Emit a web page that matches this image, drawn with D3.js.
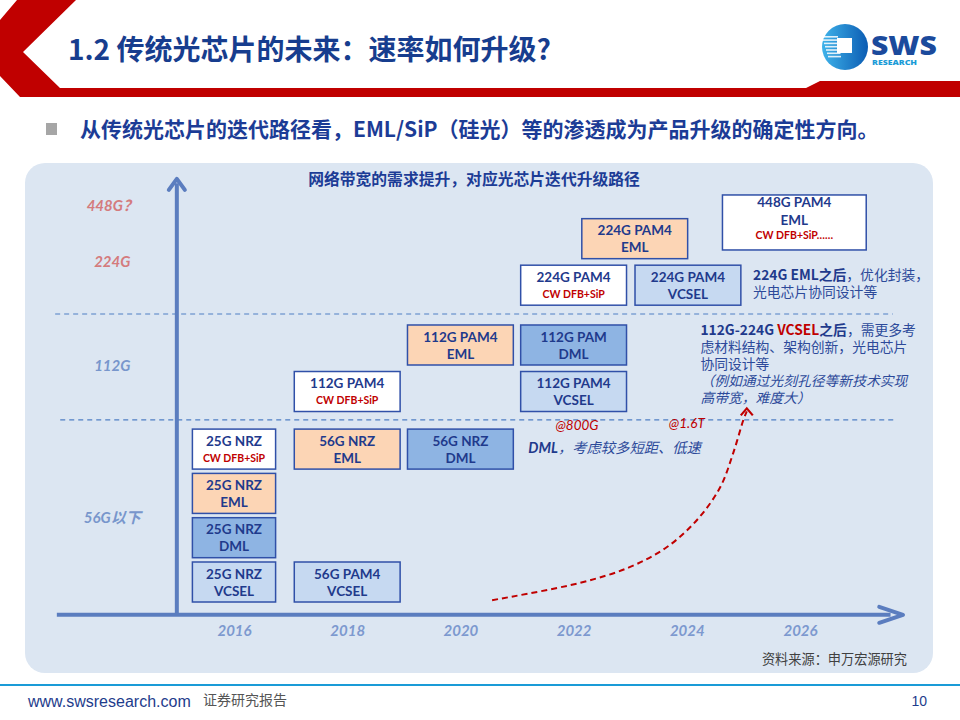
<!DOCTYPE html>
<html><head><meta charset="utf-8">
<script src="https://cdn.jsdelivr.net/npm/d3@7"></script>
<style>
html,body{margin:0;padding:0;background:#fff;}
svg{display:block;}
</style></head>
<body>
<svg id="chart" width="960" height="720"></svg>
<script>
// ---------- data ----------
const years = [2016, 2018, 2020, 2022, 2024, 2026];
const tierLabels = ["448G？", "224G", "112G", "56G以下"];
const tierSlots = [8.49, 7.22, 4.88, 1.44];
const tierKind = ["future", "future", "now", "now"];

const chipTitle = ["25G NRZ","25G NRZ","25G NRZ","25G NRZ","56G NRZ","56G PAM4","112G PAM4","56G NRZ","112G PAM4","224G PAM4","112G PAM","112G PAM4","224G PAM4","224G PAM4","448G PAM4"];
const chipLine2 = ["","EML","DML","VCSEL","EML","VCSEL","","DML","EML","","DML","VCSEL","EML","VCSEL","EML"];
const chipRed   = ["CW DFB+SiP","","","","","","CW DFB+SiP","","","CW DFB+SiP","","","","","CW DFB+SiP……"];
const chipKind  = ["sip","eml","dml","vcsel","eml","vcsel","sip","dml","eml","sip","dml","vcsel","eml","vcsel","sip"];
const chipYear  = [2016,2016,2016,2016,2018,2018,2018,2020,2020,2022,2022,2022,2023.08,2024.02,2025.9];
const chipSlot  = [3,2,1,0,3,0,4.3,3,5.35,6.7,5.35,4.3,7.75,6.7,8.24];
const chipSpan  = [1.47,1.47,1.47,1.47,1.87,1.87,1.87,1.87,1.87,1.87,1.87,1.87,1.87,1.87,2.54];

const curveYear = [2020.56, 2022.11, 2023.0, 2023.65, 2024.18, 2024.59, 2024.82, 2025.0, 2025.06];
const curveSlot = [-0.41, -0.02, 0.34, 0.79, 1.40, 2.14, 2.91, 3.66, 3.92];

const speedNotes = ["@800G", "@1.6T"];
const speedNoteYear = [2022.06, 2024.0];

// ---------- styles ----------
const C = {
  navy: "#1f3a8c", red: "#c00000", axis: "#5b7dbf", panel: "#dce6f2",
  border: "#3050a8", future: "#d47b7d", now: "#7896cc", year: "#7d99cf", note: "#2d4a9a"
};
const fills = {sip: "#ffffff", eml: "#fcd5b5", dml: "#8eb4e3", vcsel: "#c6d9f1"};
const cjk = "'Noto Sans CJK SC', sans-serif";
const latin = "Lato, 'Noto Sans CJK SC', sans-serif";

const svg = d3.select("#chart");

// ---------- header ----------
svg.append("path")
  .attr("d", "M17,0 L76,0 L23,52 L60,88 L806,88 L820,81 L960,81 L960,97 L20,97 L0,76 L0,20 Z")
  .attr("fill", C.red);
svg.append("text").attr("x", 68).attr("y", 60)
  .attr("fill", "#173d8e").attr("font-size", 28).attr("font-family", cjk).attr("font-weight", 700)
  .text("1.2 传统光芯片的未来：速率如何升级?");

// logo
const defs = svg.append("defs");
const lg = defs.append("linearGradient").attr("id", "lg").attr("x1", 0).attr("y1", 0).attr("x2", 1).attr("y2", 0);
lg.append("stop").attr("offset", 0).attr("stop-color", "#3fb3ea");
lg.append("stop").attr("offset", 1).attr("stop-color", "#0b5cb3");
const logo = svg.append("g");
logo.append("circle").attr("cx", 845).attr("cy", 47).attr("r", 23).attr("fill", "url(#lg)");
d3.range(7).forEach(i => {
  logo.append("rect").attr("x", 822 + i).attr("y", 36 + i * 3.3).attr("width", 16 - i * 0.5).attr("height", 1.6).attr("fill", "#fff").attr("opacity", 0.85);
});
logo.append("rect").attr("x", 837).attr("y", 38).attr("width", 15).attr("height", 15).attr("fill", "#fff");
logo.append("text").attr("x", 871).attr("y", 55).attr("font-family", "'Open Sans', sans-serif").attr("font-weight", 800)
  .attr("font-size", 27).attr("fill", "#1b4a9c").attr("textLength", 66).attr("lengthAdjust", "spacingAndGlyphs").text("SWS");
logo.append("text").attr("x", 872).attr("y", 64.5).attr("font-family", "'Open Sans', sans-serif").attr("font-weight", 800)
  .attr("font-size", 7).attr("fill", "#1a9bd7").attr("textLength", 45).attr("lengthAdjust", "spacingAndGlyphs").text("RESEARCH");

// subtitle
svg.append("rect").attr("x", 46).attr("y", 123).attr("width", 11).attr("height", 12).attr("fill", "#a6a6a6");
svg.append("text").attr("x", 80).attr("y", 137).attr("font-family", cjk).attr("font-weight", 700)
  .attr("font-size", 21).attr("fill", "#1c3c96")
  .text("从传统光芯片的迭代路径看，EML/SiP（硅光）等的渗透成为产品升级的确定性方向。");

// ---------- panel ----------
svg.append("rect").attr("x", 25).attr("y", 163).attr("width", 908).attr("height", 510)
  .attr("rx", 20).attr("fill", C.panel);
svg.append("text").attr("x", 474).attr("y", 185).attr("text-anchor", "middle")
  .attr("font-family", cjk).attr("font-weight", 700).attr("font-size", 15.8).attr("fill", "#1c3c96")
  .text("网络带宽的需求提升，对应光芯片迭代升级路径");

// ---------- scales ----------
const x = d3.scaleLinear().domain([2016, 2026]).range([234, 800]);
const y = d3.scaleLinear().domain([0, 10]).range([582, 139]);

// dashed tier separators
[[6.05, 2012.84, 2027.64], [3.66, 2012.93, 2027.71]].forEach(([s, a, b]) => {
  svg.append("line").attr("x1", x(a)).attr("x2", x(b)).attr("y1", y(s)).attr("y2", y(s))
    .attr("stroke", "#4f7fc4").attr("stroke-width", 1.2).attr("stroke-dasharray", "5,4");
});

// axes
const axisY = y(-0.74), axisX = x(2014.99);
svg.append("line").attr("x1", x(2012.87)).attr("x2", x(2027.6)).attr("y1", axisY).attr("y2", axisY)
  .attr("stroke", C.axis).attr("stroke-width", 4);
svg.append("path").attr("d", `M${x(2027.4)},${axisY - 8} L${x(2027.82)},${axisY} L${x(2027.4)},${axisY + 8}`)
  .attr("fill", "none").attr("stroke", C.axis).attr("stroke-width", 4).attr("stroke-linecap", "round").attr("stroke-linejoin", "round");
svg.append("line").attr("x1", axisX).attr("x2", axisX).attr("y1", axisY).attr("y2", y(9.0))
  .attr("stroke", C.axis).attr("stroke-width", 4);
svg.append("path").attr("d", `M${axisX - 8},${y(8.85)} L${axisX},${y(9.1)} L${axisX + 8},${y(8.85)}`)
  .attr("fill", "none").attr("stroke", C.axis).attr("stroke-width", 4).attr("stroke-linecap", "round").attr("stroke-linejoin", "round");

// x-axis year labels via d3 axis
const xAxis = d3.axisBottom(x).tickValues(years).tickFormat(d3.format("d")).tickSize(0).tickPadding(0);
const gx = svg.append("g").attr("transform", `translate(0,${y(-1.11) - 6})`).call(xAxis);
gx.select(".domain").remove();
gx.selectAll("text").attr("font-family", latin).attr("font-style", "italic").attr("font-weight", 700)
  .attr("font-size", 15).attr("fill", C.year).attr("dy", "0.71em");

// tier labels
svg.append("g").selectAll("text").data(tierLabels).join("text")
  .attr("x", x(2013.85)).attr("y", (d, i) => y(tierSlots[i]))
  .attr("dy", "0.35em").attr("text-anchor", "middle")
  .attr("font-family", latin).attr("font-style", "italic").attr("font-weight", 700).attr("font-size", 15)
  .attr("fill", (d, i) => tierKind[i] === "future" ? C.future : C.now)
  .text(d => d);

// ---------- chip boxes ----------
const chips = chipTitle.map((t, i) => ({
  t, l2: chipLine2[i], red: chipRed[i], kind: chipKind[i],
  yr: chipYear[i], s: chipSlot[i], span: chipSpan[i]
}));
const g = svg.append("g").selectAll("g").data(chips).join("g")
  .attr("transform", d => `translate(${x(d.yr)},${y(d.s)})`);
g.append("rect")
  .attr("x", d => -(x(2016 + d.span / 2) - x(2016)))
  .attr("width", d => 2 * (x(2016 + d.span / 2) - x(2016)))
  .attr("y", d => (d.l2 && d.red) ? -22 : -20)
  .attr("height", d => (d.l2 && d.red) ? 55 : 40)
  .attr("fill", d => fills[d.kind]).attr("stroke", C.border).attr("stroke-width", 1.5);
g.append("text").attr("text-anchor", "middle")
  .attr("y", d => (d.l2 && d.red) ? -15 : -8).attr("dy", "0.35em")
  .attr("font-family", latin).attr("font-weight", 700).attr("font-size", 13.5).attr("fill", C.navy)
  .text(d => d.t);
g.filter(d => d.l2).append("text").attr("text-anchor", "middle")
  .attr("y", d => d.red ? 3 : 9).attr("dy", "0.35em")
  .attr("font-family", latin).attr("font-weight", 700).attr("font-size", 13.5).attr("fill", C.navy)
  .text(d => d.l2);
g.filter(d => d.red).append("text").attr("text-anchor", "middle")
  .attr("y", d => d.l2 ? 18 : 9).attr("dy", "0.35em")
  .attr("font-family", latin).attr("font-weight", 700).attr("font-size", 10.5).attr("fill", C.red)
  .text(d => d.red);

// ---------- annotations ----------
function lineText(px, py, parts, opts = {}) {
  const t = svg.append("text").attr("x", px).attr("y", py).attr("dy", "0.35em")
    .attr("font-family", cjk).attr("font-size", opts.size || 13.8).attr("fill", C.note);
  if (opts.italic) t.attr("font-style", "italic");
  parts.forEach(p => {
    const s = t.append("tspan").text(p.t);
    if (p.b) s.attr("font-weight", 700).attr("fill", C.navy);
    if (p.c) s.attr("fill", p.c);
    if (p.f) s.attr("font-family", p.f);
  });
  return t;
}
const ax1 = x(2025.17);
lineText(ax1, 275, [{t: "224G EML之后", b: 1}, {t: "，优化封装，"}]);
lineText(ax1, 292, [{t: "光电芯片协同设计等"}]);
const ax2 = x(2024.24);
lineText(ax2, 330, [{t: "112G-224G ", b: 1}, {t: "VCSEL", b: 1, c: C.red}, {t: "之后", b: 1}, {t: "，需更多考"}]);
lineText(ax2, 347, [{t: "虑材料结构、架构创新，光电芯片"}]);
lineText(ax2, 364, [{t: "协同设计等"}]);
lineText(ax2, 381, [{t: "（例如通过光刻孔径等新技术实现"}], {italic: true});
lineText(ax2, 398, [{t: "高带宽，难度大）"}], {italic: true});

lineText(x(2021.2), 448, [{t: "DML", b: 1, f: latin}, {t: "，考虑较多短距、低速"}], {italic: true, size: 14.3});

svg.append("g").selectAll("text").data(speedNotes).join("text")
  .attr("x", (d, i) => x(speedNoteYear[i])).attr("y", (d, i) => i ? 423 : 425).attr("dy", "0.35em")
  .attr("text-anchor", "middle").attr("font-family", latin).attr("font-style", "italic")
  .attr("font-size", 13.5).attr("fill", C.red).text(d => d);

// red dashed growth curve
const curvePts = curveYear.map((v, i) => [x(v), y(curveSlot[i])]);
const line = d3.line().curve(d3.curveCatmullRom.alpha(0.5));
svg.append("path").attr("d", line(curvePts.slice(0, -1).concat([[curvePts[curvePts.length - 1][0], curvePts[curvePts.length - 1][1] + 3]])))
  .attr("fill", "none").attr("stroke", C.red).attr("stroke-width", 2).attr("stroke-dasharray", "6,4");
const tip = curvePts[curvePts.length - 1];
svg.append("path").attr("d", `M${tip[0] - 6},${tip[1] + 7} L${tip[0]},${tip[1]} L${tip[0] + 6},${tip[1] + 7}`)
  .attr("fill", "none").attr("stroke", C.red).attr("stroke-width", 2.2);

// source
svg.append("text").attr("x", 907).attr("y", 659).attr("dy", "0.35em").attr("text-anchor", "end")
  .attr("font-family", cjk).attr("font-size", 13.2).attr("fill", "#404040").text("资料来源：申万宏源研究");

// ---------- footer ----------
svg.append("line").attr("x1", 0).attr("x2", 960).attr("y1", 685).attr("y2", 685)
  .attr("stroke", "#1a9bd7").attr("stroke-width", 2);
svg.append("text").attr("x", 28).attr("y", 701).attr("dy", "0.35em")
  .attr("font-family", "'Liberation Sans', Arial, sans-serif").attr("font-size", 16).attr("fill", "#1e3c8c")
  .text("www.swsresearch.com");
svg.append("text").attr("x", 203).attr("y", 700).attr("dy", "0.35em")
  .attr("font-family", cjk).attr("font-size", 14).attr("fill", "#555").text("证券研究报告");
svg.append("text").attr("x", 927).attr("y", 701).attr("dy", "0.35em").attr("text-anchor", "end")
  .attr("font-family", "'Liberation Sans', Arial, sans-serif").attr("font-size", 14).attr("fill", "#1e3c8c").text("10");
</script>
</body></html>
